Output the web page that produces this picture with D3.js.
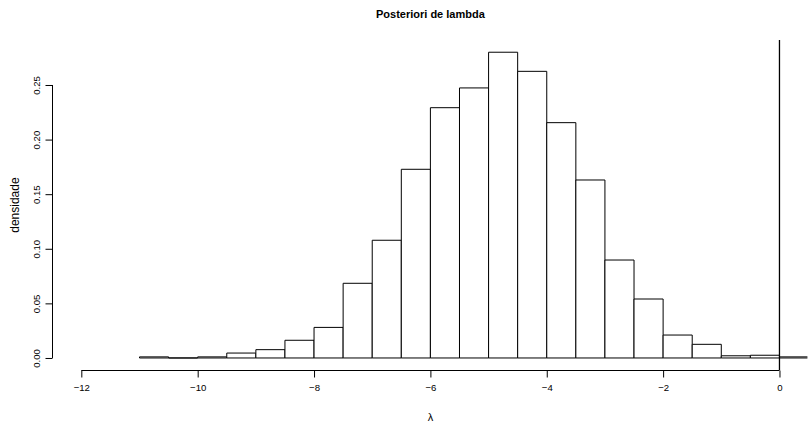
<!DOCTYPE html>
<html>
<head>
<meta charset="utf-8">
<script src="https://cdn.jsdelivr.net/npm/d3@7"></script>
<style>
  body { margin: 0; background: #fff; }
  svg { font-family: "Liberation Sans", Arial, sans-serif; }
</style>
</head>
<body>
<svg id="chart" width="812" height="423"></svg>
<script>
// histogram bins (width 0.5) and their densities
const breaks = [-11, -10.5, -10, -9.5, -9, -8.5, -8, -7.5, -7, -6.5, -6, -5.5, -5,
  -4.5, -4, -3.5, -3, -2.5, -2, -1.5, -1, -0.5, 0, 0.5];
const densities = [0.001, 0, 0.001, 0.0045, 0.0076, 0.0162, 0.028, 0.0684, 0.1078,
  0.1728, 0.2292, 0.2473, 0.280, 0.2625, 0.2155, 0.163, 0.0897, 0.054, 0.021,
  0.0125, 0.002, 0.0025, 0.001];
const xTicks = [-12, -10, -8, -6, -4, -2, 0];
const yTicks = [0, 0.05, 0.10, 0.15, 0.20, 0.25];
const vLine = 0; // abline(v = 0)

const bins = densities.map((d, i) => ({ x0: breaks[i], x1: breaks[i + 1], d }));

const svg = d3.select('#chart');

// R style usr extents: xlim c(-12, 0) and ylim with 4% padding
const x = d3.scaleLinear().domain([-12.48, 0.48]).range([53.4, 807.4]);
const y = d3.scaleLinear().domain([-0.0112, 0.2912]).range([370.2, 40]);

svg.append('clipPath').attr('id', 'plot')
  .append('rect')
  .attr('x', x.range()[0]).attr('y', y.range()[1])
  .attr('width', x.range()[1] - x.range()[0])
  .attr('height', y.range()[0] - y.range()[1]);

const plot = svg.append('g').attr('clip-path', 'url(#plot)');

// bars as closed paths so empty bins still show their base line
plot.selectAll('.bar')
  .data(bins)
  .enter()
  .append('path')
  .attr('class', 'bar')
  .attr('d', b => {
    const x0 = x(b.x0), x1 = x(b.x1), y0 = y(0), y1 = y(b.d);
    return `M${x0},${y0}L${x0},${y1}L${x1},${y1}L${x1},${y0}Z`;
  })
  .attr('fill', '#fff')
  .attr('stroke', '#000')
  .attr('stroke-width', 1);

// vertical reference line at 0
plot.append('line')
  .attr('x1', x(vLine)).attr('x2', x(vLine))
  .attr('y1', y.range()[1]).attr('y2', y.range()[0])
  .attr('stroke', '#000')
  .attr('stroke-width', 1.3);

// x axis
const xAxis = svg.append('g')
  .attr('transform', `translate(0,${Math.round(y.range()[0]) + 0.5})`)
  .call(d3.axisBottom(x).tickValues(xTicks).tickSize(7).tickSizeOuter(0).tickPadding(7)
    .tickFormat(d => d3.format('d')(d).replace('-', '\u2212')));
xAxis.select('.domain').remove();
xAxis.append('line')
  .attr('x1', x(xTicks[0])).attr('x2', x(xTicks[xTicks.length - 1]))
  .attr('stroke', '#000');
xAxis.selectAll('text').attr('font-size', 9.6).attr('fill', '#000');
xAxis.selectAll('.tick line').attr('stroke', '#000');

// y axis, labels rotated like R's las = 0
const yAxis = svg.append('g')
  .attr('transform', `translate(${Math.round(x.range()[0]) - 0.5},0)`)
  .call(d3.axisLeft(y).tickValues(yTicks).tickSize(7).tickSizeOuter(0)
    .tickFormat(d3.format('.2f')));
yAxis.select('.domain').remove();
yAxis.append('line')
  .attr('y1', y(yTicks[0])).attr('y2', y(yTicks[yTicks.length - 1]))
  .attr('stroke', '#000');
yAxis.selectAll('.tick line').attr('stroke', '#000');
yAxis.selectAll('text')
  .attr('font-size', 9.6).attr('fill', '#000')
  .attr('x', null).attr('dy', null)
  .attr('text-anchor', 'middle')
  .attr('transform', 'translate(-12.5,0) rotate(-90)');

// titles
svg.append('text')
  .attr('x', (x.range()[0] + x.range()[1]) / 2).attr('y', 18)
  .attr('text-anchor', 'middle')
  .attr('font-size', 11).attr('font-weight', 'bold')
  .text('Posteriori de lambda');

svg.append('text')
  .attr('x', (x.range()[0] + x.range()[1]) / 2).attr('y', 421)
  .attr('text-anchor', 'middle')
  .attr('font-size', 11)
  .text('λ');

svg.append('text')
  .attr('transform', `translate(18.5,${(y.range()[0] + y.range()[1]) / 2}) rotate(-90)`)
  .attr('text-anchor', 'middle')
  .attr('font-size', 12)
  .text('densidade');
</script>
</body>
</html>
